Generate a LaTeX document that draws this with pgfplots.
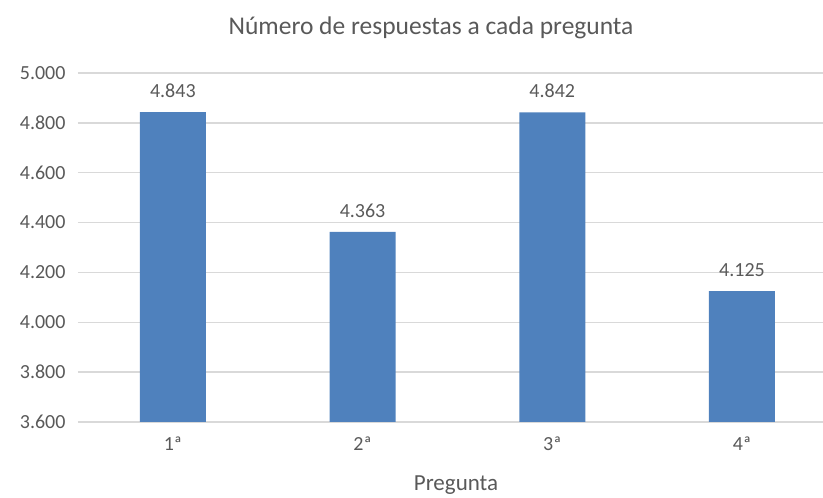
\documentclass[border=0pt]{standalone}
\usepackage{fontspec}
\setmainfont{Carlito}
\usepackage{pgfplots}
\pgfplotsset{compat=1.18}
\definecolor{barblue}{HTML}{4F81BD}
\definecolor{txtgray}{HTML}{595959}
\definecolor{gridgray}{HTML}{D9D9D9}
\begin{document}
\begin{tikzpicture}[x=1pt,y=1pt]
\useasboundingbox (0,0) rectangle (823,498);
\begin{axis}[
  at={(78pt,76pt)}, anchor=south west,
  scale only axis, width=745pt, height=349pt,
  xmin=-0.5, xmax=3.427,
  ymin=3600, ymax=5000,
  ytick={3600,3800,4000,4200,4400,4600,4800,5000},
  xtick={0,1,2,3},
  xticklabels={1ª,2ª,3ª,4ª},
  ybar, bar width=66pt,
  axis y line*=left,
  y axis line style={draw=none},
  axis x line*=bottom,
  x axis line style={draw=gridgray, line width=1.3pt, -},
  ymajorgrids,
  grid style={draw=gridgray, line width=1.3pt},
  major tick length=0pt,
  /pgf/number format/.cd, assume math mode=true, 1000 sep={.}, fixed, precision=0,
  /pgfplots/.cd,
  tick label style={font=\fontsize{20}{24}\selectfont, text=txtgray},
  yticklabel style={xshift=-9pt},
  xticklabel style={yshift=-11pt},
  nodes near coords,
  every node near coord/.append style={font=\fontsize{20}{24}\selectfont, text=txtgray, yshift=11pt},
  clip=false,
]
\addplot[fill=barblue, draw=none] coordinates {(0,4843) (1,4363) (2,4842) (3,4125)};
\end{axis}
\node[text=txtgray, font=\fontsize{25.5}{30}\selectfont] at (431,470) {Número de respuestas a cada pregunta};
\node[text=txtgray, font=\fontsize{23}{27}\selectfont] at (456,13) {Pregunta};
\end{tikzpicture}
\end{document}
